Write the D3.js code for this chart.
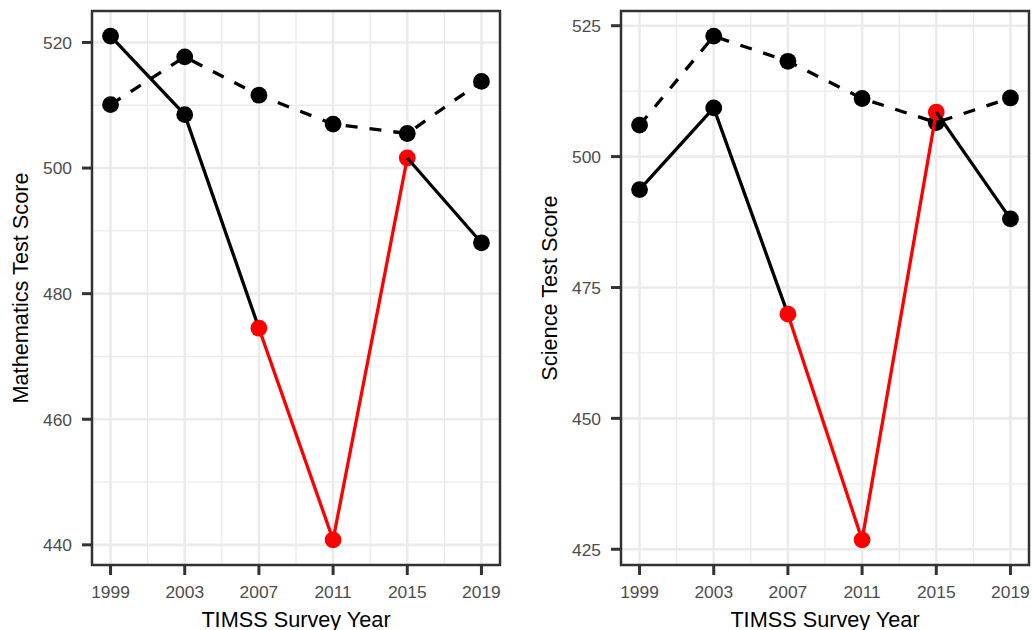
<!DOCTYPE html>
<html lang="en">
<head>
    <meta charset="UTF-8">
    <title>TIMSS scores</title>
    <script src="https://cdn.jsdelivr.net/npm/d3@7"></script>
    <style>
        body { margin:0; background:#fff; }
        svg text { font-family: "Liberation Sans", Arial, sans-serif; }
        .tick-label { fill:#4d4d4d; font-size:17.4px; }
        .axis-title { fill:#000; font-size:21.7px; }
    </style>
</head>
<body>
<div id="chart"></div>
<script>
    // survey years and scores
    var years = [1999, 2003, 2007, 2011, 2015, 2019];
    var mathScore = [521.0, 508.5, 474.5, 440.8, 501.6, 488.1];
    var mathRef   = [510.1, 517.7, 511.6, 507.0, 505.5, 513.8];
    var sciScore  = [493.7, 509.3, 469.9, 426.8, 508.5, 488.1];
    var sciRef    = [506.0, 523.0, 518.2, 511.1, 506.5, 511.2];
    // years inside the highlighted (red) stretch
    var highlight = [false, false, true, true, true, false];

    var mathTicks = [440, 460, 480, 500, 520];
    var sciTicks  = [425, 450, 475, 500, 525];

    var svg = d3.select("#chart").append("svg")
        .attr("width", 1033).attr("height", 630);

    function panel(opt) {
        var L = opt.left, R = opt.left + 408, T = 11, B = 565;
        var g = svg.append("g");

        var x = d3.scaleLinear().domain([1998, 2020]).range([L, R]);
        var all = opt.score.concat(opt.ref);
        var lo = d3.min(all), hi = d3.max(all), pad = (hi - lo) * 0.05;
        var y = d3.scaleLinear().domain([lo - pad, hi + pad]).range([B, T]);

        // grid
        var step = opt.ticks[1] - opt.ticks[0];
        var minorY = opt.ticks.map(d => d + step / 2).concat([opt.ticks[0] - step / 2])
            .filter(d => d > y.domain()[0] && d < y.domain()[1]);
        var minorX = years.map(d => d + 2).filter(d => d < 2020);

        g.selectAll(".minx").data(minorX).enter().append("line")
            .attr("x1", d => x(d)).attr("x2", d => x(d)).attr("y1", T).attr("y2", B)
            .attr("stroke", "#ebebeb").attr("stroke-width", 1.3);
        g.selectAll(".miny").data(minorY).enter().append("line")
            .attr("y1", d => y(d)).attr("y2", d => y(d)).attr("x1", L).attr("x2", R)
            .attr("stroke", "#ebebeb").attr("stroke-width", 1.3);
        g.selectAll(".majx").data(years).enter().append("line")
            .attr("x1", d => x(d)).attr("x2", d => x(d)).attr("y1", T).attr("y2", B)
            .attr("stroke", "#ebebeb").attr("stroke-width", 2.6);
        g.selectAll(".majy").data(opt.ticks).enter().append("line")
            .attr("y1", d => y(d)).attr("y2", d => y(d)).attr("x1", L).attr("x2", R)
            .attr("stroke", "#ebebeb").attr("stroke-width", 2.6);

        var line = d3.line().x(d => x(d.year)).y(d => y(d.v));

        // dashed reference series
        var refData = years.map((yr, i) => ({year: yr, v: opt.ref[i]}));
        g.append("path").datum(refData)
            .attr("d", line).attr("fill", "none")
            .attr("stroke", "#000").attr("stroke-width", 3.3)
            .attr("stroke-dasharray", "12,12");
        g.selectAll(".refpt").data(refData).enter().append("circle")
            .attr("cx", d => x(d.year)).attr("cy", d => y(d.v)).attr("r", 8.4)
            .attr("fill", "#000");

        // main series: a segment is red only when both ends are highlighted
        var pts = years.map((yr, i) => ({year: yr, v: opt.score[i], hl: highlight[i]}));
        var runs = [];
        for (var i = 0; i < pts.length - 1; i++) {
            var red = pts[i].hl && pts[i + 1].hl;
            var last = runs[runs.length - 1];
            if (!last || last.red !== red) {
                runs.push({red: red, line: [pts[i], pts[i + 1]]});
            } else {
                last.line.push(pts[i + 1]);
            }
        }
        var drawn = new Set();
        runs.forEach(function (run) {
            g.append("path").datum(run.line)
                .attr("d", line).attr("fill", "none")
                .attr("stroke", run.red ? "#ff0000" : "#000").attr("stroke-width", 3.3);
            // points of this run that share its colour (or end a red run)
            var mine = run.line.filter(p => !drawn.has(p) &&
                (p.hl === run.red || p === run.line[run.line.length - 1] && !run.red && !p.hl));
            mine.forEach(p => drawn.add(p));
            g.selectAll(null).data(mine).enter().append("circle")
                .attr("cx", d => x(d.year)).attr("cy", d => y(d.v)).attr("r", 8.4)
                .attr("fill", d => d.hl ? "#ff0000" : "#000");
        });

        // border
        g.append("rect").attr("x", L).attr("y", T).attr("width", R - L).attr("height", B - T)
            .attr("fill", "none").attr("stroke", "#333").attr("stroke-width", 2.5);

        // ticks
        g.selectAll(".ty").data(opt.ticks).enter().append("line")
            .attr("x1", L - 10).attr("x2", L).attr("y1", d => y(d)).attr("y2", d => y(d))
            .attr("stroke", "#333").attr("stroke-width", 3);
        g.selectAll(".tyl").data(opt.ticks).enter().append("text")
            .attr("class", "tick-label")
            .attr("x", L - 20).attr("y", d => y(d)).attr("dy", "0.36em")
            .attr("text-anchor", "end").text(d => d);
        g.selectAll(".tx").data(years).enter().append("line")
            .attr("y1", B).attr("y2", B + 10).attr("x1", d => x(d)).attr("x2", d => x(d))
            .attr("stroke", "#333").attr("stroke-width", 3);
        g.selectAll(".txl").data(years).enter().append("text")
            .attr("class", "tick-label")
            .attr("x", d => x(d)).attr("y", 597.5)
            .attr("text-anchor", "middle").text(d => d);

        // titles
        g.append("text").attr("class", "axis-title")
            .attr("x", (L + R) / 2).attr("y", 627)
            .attr("text-anchor", "middle").text("TIMSS Survey Year");
        g.append("text").attr("class", "axis-title")
            .attr("transform", "translate(" + (L - 64) + "," + ((T + B) / 2) + ") rotate(-90)")
            .attr("text-anchor", "middle").text(opt.title);
    }

    panel({left: 92, score: mathScore, ref: mathRef, ticks: mathTicks, title: "Mathematics Test Score"});
    panel({left: 621, score: sciScore, ref: sciRef, ticks: sciTicks, title: "Science Test Score"});
</script>
</body>
</html>
